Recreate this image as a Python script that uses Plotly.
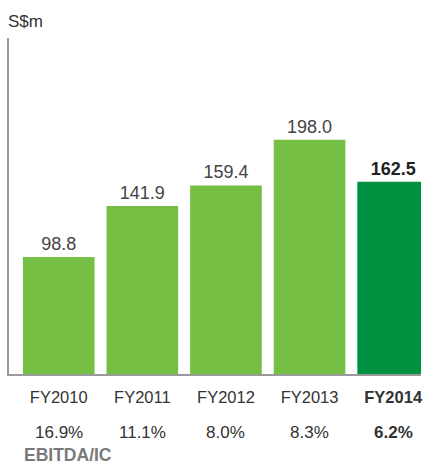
import plotly.graph_objects as go

# data
years = ["FY2010", "FY2011", "FY2012", "FY2013", "FY2014"]
ebitda = [98.8, 141.9, 159.4, 198.0, 162.5]
ebitda_ic = ["16.9%", "11.1%", "8.0%", "8.3%", "6.2%"]

W, H = 423, 464
FONT = "Liberation Sans, Arial, sans-serif"

bar_colors = ["#74BF44"] * 4 + ["#009140"]
value_text = [f"{v:.1f}" for v in ebitda]
value_text[-1] = f"<b>{value_text[-1]}</b>"
tick_text = years[:-1] + [f"<b>{years[-1]}</b>"]

fig = go.Figure()
fig.add_trace(go.Bar(
    x=list(range(len(years))),
    y=ebitda,
    marker=dict(color=bar_colors, line=dict(width=0)),
    text=value_text,
    textposition="outside",
    textfont=dict(family=FONT, size=18, color=["#444444"] * 4 + ["#222222"]),
    cliponaxis=False,
    hoverinfo="skip",
))

# EBITDA/IC row under the year labels
for i, pct in enumerate(ebitda_ic):
    txt = f"<b>{pct}</b>" if i == len(years) - 1 else pct
    fig.add_annotation(x=i, xref="x", y=-0.175, yref="paper", text=txt,
                       showarrow=False, yanchor="middle",
                       font=dict(family=FONT, size=17, color="#333333"))

fig.add_annotation(x=0, xref="paper", xanchor="left", xshift=13,
                   y=-0.242, yref="paper", yanchor="middle",
                   text="<b>EBITDA/IC</b>", showarrow=False,
                   font=dict(family=FONT, size=17.5, color="#7a7a7a"))
fig.add_annotation(x=0, xref="paper", xanchor="left", xshift=-3,
                   y=1.05, yref="paper", yanchor="middle",
                   text="S$m", showarrow=False,
                   font=dict(family=FONT, size=17, color="#333333"))

fig.update_layout(
    width=W, height=H,
    margin=dict(l=9, r=0, t=38, b=90),
    paper_bgcolor="white", plot_bgcolor="white",
    bargap=0.143,
    showlegend=False,
    xaxis=dict(range=[-0.595, 4.333], tickvals=list(range(len(years))),
               ticktext=tick_text, showgrid=False, zeroline=False,
               showline=True, linecolor="#9a9a9a", linewidth=2,
               ticks="", ticklabelstandoff=7, ticklabeloverflow="allow",
               tickfont=dict(family=FONT, size=16.5, color="#333333")),
    yaxis=dict(range=[0, 284], showgrid=False, zeroline=False,
               showline=True, linecolor="#9a9a9a", linewidth=2,
               showticklabels=False, ticks=""),
)

fig.write_html("out.html", config={"displayModeBar": False},
               post_script="document.body.style.margin='0';")
